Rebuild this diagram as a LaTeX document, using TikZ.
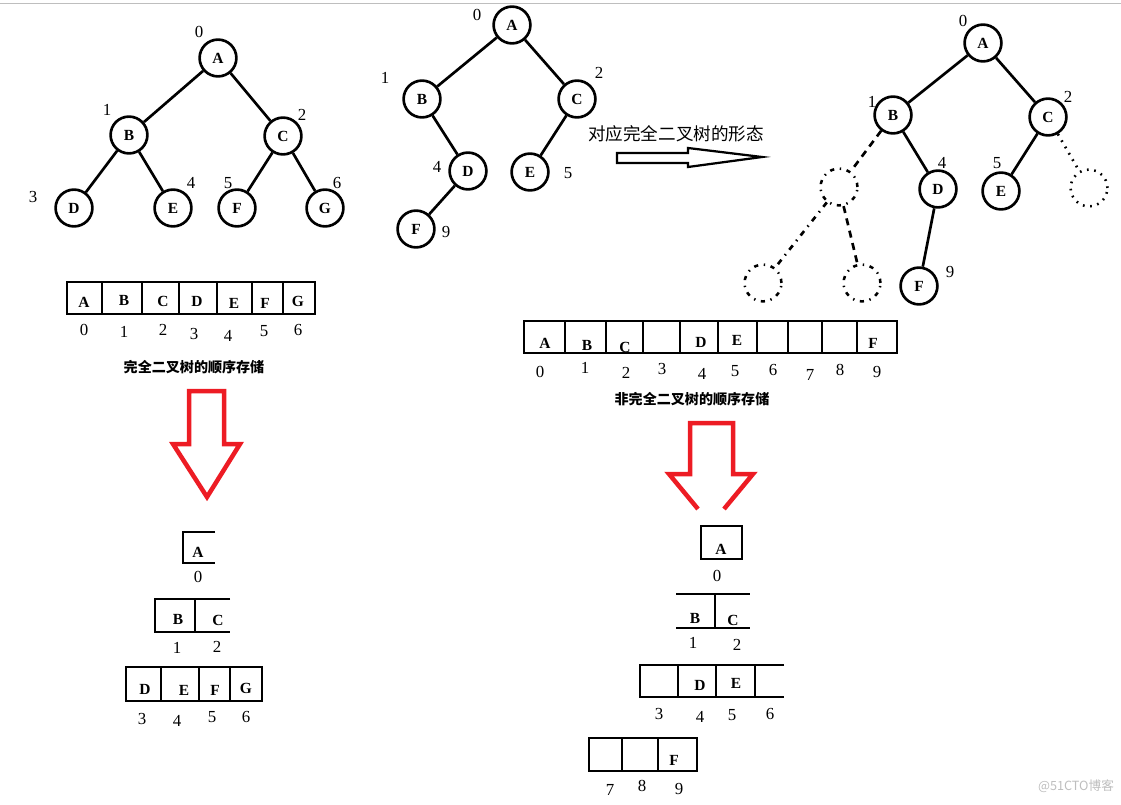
\documentclass[tikz,border=0pt]{standalone}
\usepackage{fontspec}
\setmainfont{Liberation Serif}
\newfontfamily\cjk{Noto Sans CJK SC}
\usepackage{xcolor}
\usetikzlibrary{arrows.meta,positioning,calc}
\definecolor{arrowred}{RGB}{237,28,36}
\definecolor{markgray}{RGB}{190,190,190}

\begin{document}
\begin{tikzpicture}[x=.25mm,y=-.25mm,
  tnode/.style={circle,draw=black,line width=1.9pt,minimum size=9.2mm,inner sep=0pt,
    font=\fontsize{11}{13}\selectfont\bfseries},
  pnode/.style={circle,draw=black,line width=1.8pt,minimum size=9.2mm,inner sep=0pt,
    dash pattern=on 3pt off 4pt on 1pt off 4pt},
  qnode/.style={circle,draw=black,line width=1.8pt,minimum size=9.2mm,inner sep=0pt,
    dash pattern=on 1.2pt off 4pt},
  cellchar/.style={inner sep=0pt,font=\fontsize{11}{13}\selectfont\bfseries},
  idx/.style={inner sep=0pt,font=\fontsize{12}{14}\selectfont},
  edge/.style={line width=1.9pt},
  cellline/.style={line width=1.9pt},
  bigarrow/.style={draw=arrowred,line width=3.2pt,line join=miter},
  caption/.style={inner sep=0pt,font=\cjk\fontsize{10}{12}\selectfont\bfseries}]
\useasboundingbox (0,0) rectangle (1121,804);
\draw[markgray,line width=.6pt] (0,3) -- (1121,3);

% complete tree
\node[tnode] (A1) at (218,58) {A};
\node[tnode] (B1) at (129,135) {B};
\node[tnode] (C1) at (283,136) {C};
\node[tnode] (D1) at (74,208) {D};
\node[tnode] (E1) at (173,208) {E};
\node[tnode] (F1) at (237,208) {F};
\node[tnode] (G1) at (325,208) {G};
\draw[edge] (A1)--(B1);
\draw[edge] (A1)--(C1);
\draw[edge] (B1)--(D1);
\draw[edge] (B1)--(E1);
\draw[edge] (C1)--(F1);
\draw[edge] (C1)--(G1);
\node[idx] (n10) at (199,32) {0};
\node[idx] (n11) at (107,110) {1};
\node[idx] (n12) at (302,115) {2};
\node[idx] (n13) at (33,197) {3};
\node[idx] (n14) at (191,183) {4};
\node[idx] (n15) at (228,183) {5};
\node[idx] (n16) at (337,183) {6};

% array of the complete tree
\draw[cellline] (67,282) rectangle (315,314);
\draw[cellline] (102,282)--(102,314) (142,282)--(142,314) (179,282)--(179,314)
  (217,282)--(217,314) (252,282)--(252,314) (283,282)--(283,314);
\node[cellchar] (s1a) at (84,302) {A};
\node[cellchar] (s1b) at (124,300) {B};
\node[cellchar] (s1c) at (163,301) {C};
\node[cellchar] (s1d) at (197,301) {D};
\node[cellchar] (s1e) at (234,303) {E};
\node[cellchar] (s1f) at (265,303) {F};
\node[cellchar] (s1g) at (298,301) {G};
\node[idx] (k10) at (84,330) {0};
\node[idx] (k11) at (124,332) {1};
\node[idx] (k12) at (163,330) {2};
\node[idx] (k13) at (194,334) {3};
\node[idx] (k14) at (228,336) {4};
\node[idx] (k15) at (264,331) {5};
\node[idx] (k16) at (298,330) {6};
\node[caption] (cap1) at (194,367) {完全二叉树的顺序存储};

% red arrow, left
\draw[bigarrow] (189,391)--(224,391)--(224,444)--(240,444)--(207,497)--(173,444)--(189,444)--cycle;

% levels of the complete tree
\draw[cellline] (215,532)--(183,532)--(183,563)--(215,563);
\node[cellchar] (r1a) at (198,552) {A};
\node[idx] (j10) at (198,577) {0};
\draw[cellline] (230,599)--(155,599)--(155,632)--(230,632) (195,599)--(195,632);
\node[cellchar] (r1b) at (178,619) {B};
\node[cellchar] (r1c) at (218,620) {C};
\node[idx] (j11) at (177,648) {1};
\node[idx] (j12) at (217,647) {2};
\draw[cellline] (126,667) rectangle (262,701);
\draw[cellline] (161,667)--(161,701) (199,667)--(199,701) (230,667)--(230,701);
\node[cellchar] (r1d) at (145,689) {D};
\node[cellchar] (r1e) at (184,690) {E};
\node[cellchar] (r1f) at (215,690) {F};
\node[cellchar] (r1g) at (246,688) {G};
\node[idx] (j13) at (142,719) {3};
\node[idx] (j14) at (177,721) {4};
\node[idx] (j15) at (212,717) {5};
\node[idx] (j16) at (246,717) {6};

% incomplete tree
\node[tnode] (A2) at (512,25) {A};
\node[tnode] (B2) at (422,99) {B};
\node[tnode] (C2) at (577,99) {C};
\node[tnode] (D2) at (468,171) {D};
\node[tnode] (E2) at (530,172) {E};
\node[tnode] (F2) at (416,229) {F};
\draw[edge] (A2)--(B2);
\draw[edge] (A2)--(C2);
\draw[edge] (B2)--(D2);
\draw[edge] (C2)--(E2);
\draw[edge] (D2)--(F2);
\node[idx] (n20) at (477,15) {0};
\node[idx] (n21) at (385,78) {1};
\node[idx] (n22) at (599,73) {2};
\node[idx] (n24) at (437,167) {4};
\node[idx] (n25) at (568,173) {5};
\node[idx] (n29) at (446,232) {9};

% hollow arrow
\node[inner sep=0pt,font=\cjk\fontsize{12.5}{14}\selectfont] (cap0) at (676,134) {对应完全二叉树的形态};
\draw[line width=1.6pt,line join=miter] (617,153)--(688,153)--(688,148)--(762,157)--(688,167)--(688,163)--(617,163)--cycle;

% completed form
\node[tnode] (A3) at (983,43) {A};
\node[tnode] (B3) at (893,115) {B};
\node[tnode] (C3) at (1048,117) {C};
\node[tnode] (D3) at (938,189) {D};
\node[tnode] (E3) at (1001,191) {E};
\node[tnode] (F3) at (919,286) {F};
\node[pnode] (P1) at (839,187) {};
\node[pnode] (P2) at (763,283) {};
\node[pnode] (P3) at (862,283) {};
\node[qnode] (P4) at (1089,188) {};
\draw[edge] (A3)--(B3);
\draw[edge] (A3)--(C3);
\draw[edge] (B3)--(D3);
\draw[edge] (C3)--(E3);
\draw[edge] (D3)--(F3);
\draw[edge,dash pattern=on 5pt off 4pt] (B3)--(P1);
\draw[edge,dash pattern=on 4pt off 4pt on 1pt off 4pt] (P1)--(P2);
\draw[edge,dash pattern=on 5pt off 4pt] (P1)--(P3);
\draw[edge,dash pattern=on 1.2pt off 4pt] (C3)--(P4);
\node[idx] (n30) at (963,21) {0};
\node[idx] (n31) at (872,102) {1};
\node[idx] (n32) at (1068,97) {2};
\node[idx] (n34) at (942,163) {4};
\node[idx] (n35) at (997,163) {5};
\node[idx] (n39) at (950,272) {9};

% array of the incomplete tree
\draw[cellline] (524,321) rectangle (897,353);
\draw[cellline] (565,321)--(565,353) (606,321)--(606,353) (643,321)--(643,353)
  (680,321)--(680,353) (718,321)--(718,353) (757,321)--(757,353)
  (788,321)--(788,353) (822,321)--(822,353) (857,321)--(857,353);
\node[cellchar] (s2a) at (545,343) {A};
\node[cellchar] (s2b) at (587,345) {B};
\node[cellchar] (s2c) at (625,347) {C};
\node[cellchar] (s2d) at (701,342) {D};
\node[cellchar] (s2e) at (737,340) {E};
\node[cellchar] (s2f) at (873,343) {F};
\node[idx] (k20) at (540,372) {0};
\node[idx] (k21) at (585,368) {1};
\node[idx] (k22) at (626,373) {2};
\node[idx] (k23) at (662,369) {3};
\node[idx] (k24) at (702,374) {4};
\node[idx] (k25) at (735,371) {5};
\node[idx] (k26) at (773,370) {6};
\node[idx] (k27) at (810,375) {7};
\node[idx] (k28) at (840,370) {8};
\node[idx] (k29) at (877,372) {9};
\node[caption] (cap2) at (692,399) {非完全二叉树的顺序存储};

% red arrow, right
\draw[bigarrow] (698,509)--(669,474)--(690,474)--(690,423)--(733,423)--(733,474)--(753,474)--(724,509);

% levels of the incomplete tree
\draw[cellline] (701,526) rectangle (742,559);
\node[cellchar] (r2a) at (721,549) {A};
\node[idx] (j20) at (717,576) {0};
\draw[cellline] (676,594)--(750,594) (676,628)--(750,628) (715,594)--(715,628);
\node[cellchar] (r2b) at (695,618) {B};
\node[cellchar] (r2c) at (733,620) {C};
\node[idx] (j21) at (693,643) {1};
\node[idx] (j22) at (737,645) {2};
\draw[cellline] (784,665)--(640,665)--(640,697)--(784,697);
\draw[cellline] (678,665)--(678,697) (716,665)--(716,697) (755,665)--(755,697);
\node[cellchar] (r2d) at (700,685) {D};
\node[cellchar] (r2e) at (736,683) {E};
\node[idx] (j23) at (659,714) {3};
\node[idx] (j24) at (700,717) {4};
\node[idx] (j25) at (732,715) {5};
\node[idx] (j26) at (770,714) {6};
\draw[cellline] (589,738) rectangle (697,771);
\draw[cellline] (622,738)--(622,771) (658,738)--(658,771);
\node[cellchar] (r2f) at (674,760) {F};
\node[idx] (j27) at (610,790) {7};
\node[idx] (j28) at (642,786) {8};
\node[idx] (j29) at (679,789) {9};

\node[inner sep=0pt,text=markgray,font=\cjk\fontsize{9}{11}\selectfont] (wm) at (1076,786) {@51CTO博客};
\end{tikzpicture}
\end{document}
